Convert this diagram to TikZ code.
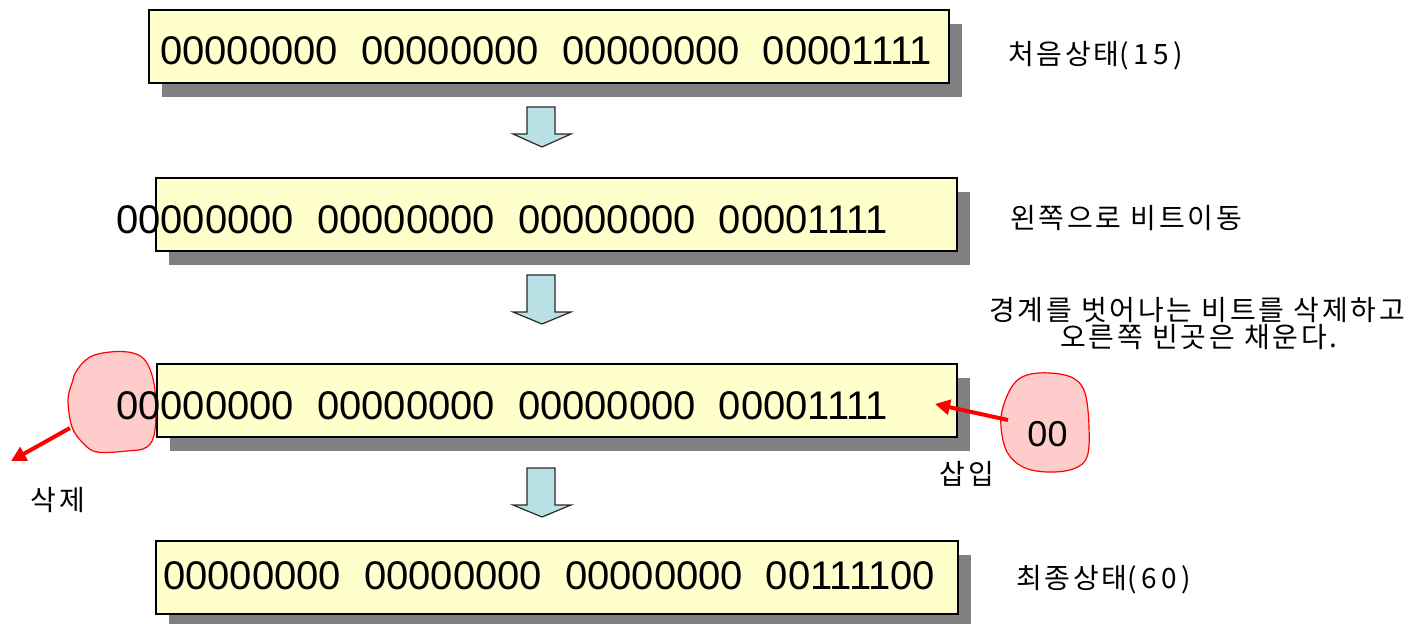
\documentclass[tikz,border=0pt]{standalone}
\usepackage{fontspec}
\setmainfont{Liberation Sans}
\newfontfamily\krfont[LetterSpace=10]{Noto Sans CJK KR}
\usetikzlibrary{arrows.meta,shadows}

\definecolor{boxfill}{RGB}{255,255,204}
\definecolor{shadowgray}{RGB}{128,128,128}
\definecolor{arrowfill}{RGB}{185,224,228}
\definecolor{arrowline}{RGB}{40,40,40}
\definecolor{blobfill}{RGB}{255,204,204}
\definecolor{blobline}{RGB}{255,0,0}

\newcommand\bitgap{\hspace{23pt}}
\newcommand\widenum[1]{{\addfontfeature{LetterSpace=16}#1}}

\begin{document}
\begin{tikzpicture}[x=1pt,y=-1pt,
  bitbox/.style={draw=black, line width=1.4pt, fill=boxfill, inner sep=0pt,
    minimum height=73pt,
    drop shadow={shadow xshift=13pt, shadow yshift=-14pt, fill=shadowgray, opacity=1}},
  bits/.style={font=\fontsize{40pt}{48pt}\selectfont, inner sep=0pt, anchor=base west},
  krlabel/.style={font=\krfont\fontsize{28pt}{28pt}\selectfont, inner sep=0pt},
  blob/.style={draw=blobline, line width=1.2pt, fill=blobfill},
  redarrow/.style={draw=blobline, line width=4pt, -{Triangle[length=15pt,width=15pt]}},
  blockarrow/.style={draw=arrowline, line width=1.2pt, fill=arrowfill, line join=miter}
]
\useasboundingbox (0,0) rectangle (1417,624);

% the four 32-bit registers
\node[bitbox, minimum width=800pt] (b1) at (549,46.5) {};
\node[bitbox, minimum width=801pt] (b2) at (556.5,214.5) {};
\node[bitbox, minimum width=800pt] (b3) at (557,400.5) {};
\node[bitbox, minimum width=802pt] (b4) at (557,577.5) {};

% hand-drawn highlights: bits pushed out on the left, zeros fed in on the right
\draw[blob] plot[smooth cycle, tension=0.6] coordinates {
  (90,357) (110,352) (133,353) (147,363) (155,390) (155,430) (147,447)
  (127,451) (97,452) (83,443) (72,427) (68,400) (72,383) (77,370)};
\draw[blob] plot[smooth cycle, tension=0.6] coordinates {
  (1013,385) (1027,375) (1050,373) (1073,378) (1085,393) (1089,427)
  (1087,457) (1073,469) (1047,472) (1023,467) (1007,452) (1001,427) (1003,407)};

% register contents
\node[bits] (t1) at (160,64.5) {00000000\bitgap 00000000\bitgap 00000000\bitgap 00001111};
\node[bits] (t2) at (116,233.5) {00000000\bitgap 00000000\bitgap 00000000\bitgap 00001111};
\node[bits] (t3) at (116,419.5) {00000000\bitgap 00000000\bitgap 00000000\bitgap 00001111};
\node[bits] (t4) at (163,589.5) {00000000\bitgap 00000000\bitgap 00000000\bitgap 00111100};
\node[inner sep=0pt, anchor=base, font=\fontsize{36pt}{40pt}\selectfont] (ins) at (1047.5,446) {00};

% red arrows for deletion and insertion
\coordinate (delfrom) at (70,428);
\coordinate (delto) at (11,461);
\coordinate (insfrom) at (1008,420);
\coordinate (insto) at (935,404);
\draw[redarrow] (delfrom) -- (delto);
\draw[redarrow] (insfrom) -- (insto);

% block arrows between the steps
\draw[blockarrow] (527,107) -- (555,107) -- (555,134) -- (571,134) -- (542,147)
  -- (513,134) -- (527,134) -- cycle;
\draw[blockarrow] (527,275) -- (555,275) -- (555,312) -- (571,312) -- (542,324)
  -- (513,312) -- (527,312) -- cycle;
\draw[blockarrow] (527,468) -- (555,468) -- (555,505) -- (571,505) -- (542,517)
  -- (513,505) -- (527,505) -- cycle;

% step descriptions
\node[krlabel, anchor=base west] (l1) at (1008,64) {처음상태\widenum{(15)}};
\node[krlabel, anchor=base west] (l2) at (1010,228) {왼쪽으로 비트이동};
\node[krlabel, anchor=base] (l3a) at (1197,320) {경계를 벗어나는 비트를 삭제하고};
\node[krlabel, anchor=base] (l3b) at (1199,347) {오른쪽 빈곳은 채운다.};
\node[krlabel, anchor=base west] (l4) at (1016,588) {최종상태\widenum{(60)}};
\node[krlabel, anchor=base] (ldel) at (58,510) {삭제};
\node[krlabel, anchor=base] (lins) at (967,484) {삽입};
\end{tikzpicture}
\end{document}
